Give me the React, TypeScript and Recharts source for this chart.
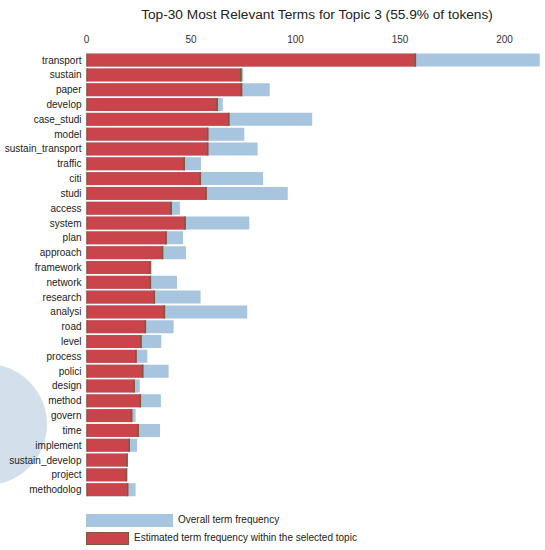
import React from 'react';
import { BarChart, Bar, XAxis, YAxis } from 'recharts';

const terms = [
  'transport', 'sustain', 'paper', 'develop', 'case_studi', 'model', 'sustain_transport', 'traffic',
  'citi', 'studi', 'access', 'system', 'plan', 'approach', 'framework', 'network', 'research',
  'analysi', 'road', 'level', 'process', 'polici', 'design', 'method', 'govern', 'time',
  'implement', 'sustain_develop', 'project', 'methodolog',
];

const overallFreq = [
  216.9, 75.0, 87.7, 65.2, 108.0, 75.5, 81.9, 54.8,
  84.5, 96.3, 44.7, 77.9, 46.2, 47.6, 31.2, 43.3, 54.6,
  76.9, 41.7, 35.8, 29.1, 39.3, 25.5, 35.6, 23.5, 35.2,
  24.2, 19.9, 19.7, 23.5,
];

const topicFreq = [
  157.7, 74.2, 74.5, 62.9, 68.4, 58.3, 58.3, 47.1,
  54.8, 57.5, 40.8, 47.5, 38.4, 36.7, 30.7, 30.9, 32.8,
  37.6, 28.5, 26.4, 24.0, 27.2, 23.1, 26.1, 21.9, 25.1,
  20.8, 19.7, 19.4, 20.0,
];

const xTicks = [0, 50, 100, 150, 200];

const data = terms.map((term, i) => ({ term, overall: overallFreq[i], estimated: topicFreq[i] }));

const FONT = '"Liberation Sans", Arial, sans-serif';
const BLUE = '#a8c5e0';
const RED = '#c9454b';
const EDGE = '#7d5a3a';

const RedBar = (props: any) => {
  const { x, y, width, height } = props;
  if (width == null || width <= 0) return null;
  return (
    <g>
      <rect x={x} y={y} width={width} height={height} fill={RED} />
      <rect x={x} y={y} width={1} height={height} fill={EDGE} />
      <rect x={x + width - 1.5} y={y} width={1.5} height={height} fill={EDGE} />
    </g>
  );
};

export default function App() {
  return (
    <div style={{ position: 'absolute', left: 0, top: 0, width: 545, height: 550, background: '#fff', overflow: 'hidden', fontFamily: FONT }}>
      <div style={{ position: 'absolute', left: -74, top: 364, width: 121, height: 121, borderRadius: '50%', background: '#d3dfea' }} />
      <div style={{ position: 'absolute', left: 0, top: 6, width: 634, textAlign: 'center', fontSize: 13.7, lineHeight: '17px', color: '#222' }}>
        Top-30 Most Relevant Terms for Topic 3 (55.9% of tokens)
      </div>
      <div style={{ position: 'absolute', left: 0, top: 0 }}>
        <BarChart
          layout="vertical"
          width={545}
          height={500}
          data={data}
          margin={{ top: 0, right: 5, left: 0, bottom: 3 }}
          barSize={13}
          barGap={-13}
        >
          <XAxis
            type="number"
            orientation="top"
            domain={[0, 217]}
            ticks={xTicks}
            height={52.6}
            axisLine={false}
            tickLine={false}
            tickSize={0}
            tickMargin={9.6}
            tick={{ fontSize: 10, fill: '#333', fontFamily: FONT }}
          />
          <YAxis
            type="category"
            dataKey="term"
            width={86.5}
            axisLine={false}
            tickLine={false}
            tickSize={0}
            tickMargin={5}
            interval={0}
            tick={{ fontSize: 10, fill: '#222', fontFamily: FONT }}
          />
          <Bar dataKey="overall" fill={BLUE} isAnimationActive={false} />
          <Bar dataKey="estimated" fill={RED} shape={RedBar} isAnimationActive={false} />
        </BarChart>
      </div>
      <div style={{ position: 'absolute', left: 86, top: 514, width: 87, height: 13, background: BLUE }} />
      <div style={{ position: 'absolute', left: 178, top: 513, fontSize: 10, lineHeight: '14px', color: '#222' }}>Overall term frequency</div>
      <div style={{ position: 'absolute', left: 86, top: 531.5, width: 43, height: 13, background: RED, boxSizing: 'border-box', border: `1px solid ${EDGE}` }} />
      <div style={{ position: 'absolute', left: 134, top: 531, fontSize: 10, lineHeight: '14px', color: '#222' }}>Estimated term frequency within the selected topic</div>
    </div>
  );
}
